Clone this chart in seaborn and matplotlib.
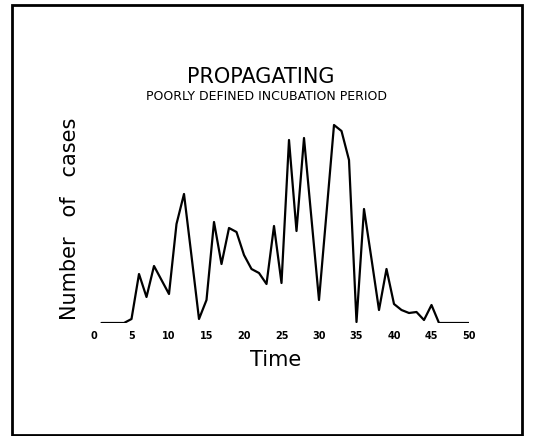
import matplotlib
matplotlib.use('Agg')
import matplotlib.pyplot as plt
import seaborn as sns
import pandas as pd
from matplotlib.patches import Rectangle

# datos (altura relativa de la curva)
tiempo = list(range(1, 51))
casos = [0, 0, 0, 0, 4, 49, 26, 57, 43, 29,
         99, 129, 67, 4, 23, 101, 59, 95, 91, 68,
         54, 50, 39, 97, 40, 183, 92, 185, 104, 23,
         110, 198, 192, 163, 1, 114, 64, 13, 54, 19,
         13, 10, 11, 3, 18, 0, 0, 0, 0, 0]
ticks_x = [0, 5, 10, 15, 20, 25, 30, 35, 40, 45, 50]

df = pd.DataFrame({'Time': tiempo, 'Cases': casos})

sns.set_theme(style="white")
plt.rcParams['font.family'] = ['DejaVu Sans']
plt.rcParams['text.color'] = 'black'

fig = plt.figure(figsize=(5.34, 4.36), dpi=100)
ax = fig.add_axes([94/534, 1 - 323/436, (469 - 94)/534, 200/436])

sns.lineplot(data=df, x='Time', y='Cases', color='black', linewidth=1.6, ax=ax)

ax.set_xlim(0, 50)
ax.set_ylim(0, 200)
ax.set_xticks(ticks_x)
ax.set_xticklabels([str(t) for t in ticks_x], fontsize=7, fontweight='bold')
ax.set_yticks([])
ax.tick_params(axis='x', length=0, pad=6, colors='black')
ax.set_xlabel('')
ax.set_ylabel('')
for s in ax.spines.values():
    s.set_visible(False)
ax.patch.set_alpha(0)

# textos
fig.text(261/534, 1 - 77/436, 'PROPAGATING', ha='center', va='center', fontsize=15, color='black')
fig.text(266/534, 1 - 97/436, 'POORLY DEFINED INCUBATION PERIOD', ha='center', va='center',
         fontsize=9, color='black')
fig.text(276/534, 1 - 360/436, 'Time', ha='center', va='center', fontsize=15, color='black')
fig.text(70/534, 1 - 219/436, 'Number   of   cases', ha='center', va='center',
         rotation=90, fontsize=15, color='black')

# marco
fig.patches.append(Rectangle((12/534, 1 - 435/436), 510/534, 430/436,
                             transform=fig.transFigure, fill=False,
                             edgecolor='black', linewidth=2))

plt.savefig('out.png', dpi=100)
plt.close()
